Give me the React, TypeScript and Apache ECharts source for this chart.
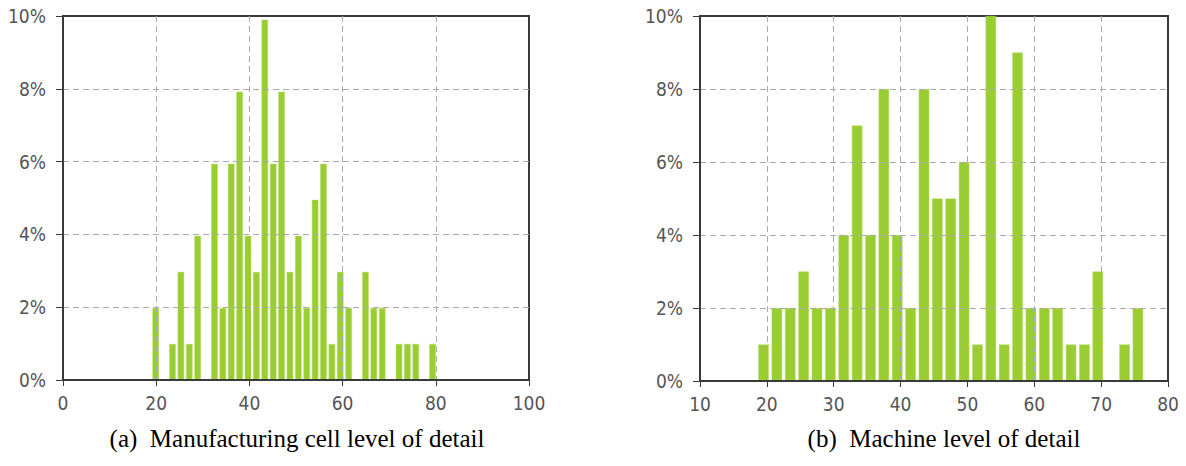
import React, { useEffect, useRef } from "react";
import * as echarts from "echarts";

// (a) Manufacturing cell level of detail — bin centres and share of items (%)
const cellBins = [19.9, 23.5, 25.3, 27.1, 28.9, 32.5, 34.3, 36.1, 37.9, 39.7, 41.5, 43.3, 45.1, 46.9, 48.7, 50.5, 52.3, 54.1, 55.9, 57.7, 59.5, 61.3, 64.9, 66.7, 68.5, 72.1, 73.9, 75.7, 79.3];
const cellShare = [1.98, 0.99, 2.97, 0.99, 3.96, 5.94, 1.98, 5.94, 7.92, 3.96, 2.97, 9.9, 5.94, 7.92, 2.97, 3.96, 1.98, 4.95, 5.94, 0.99, 2.97, 1.98, 2.97, 1.98, 1.98, 0.99, 0.99, 0.99, 0.99];

// (b) Machine level of detail — bin centres and share of items (%)
const machineBins = [19.5, 21.5, 23.5, 25.5, 27.5, 29.5, 31.5, 33.5, 35.5, 37.5, 39.5, 41.5, 43.5, 45.5, 47.5, 49.5, 51.5, 53.5, 55.5, 57.5, 59.5, 61.5, 63.5, 65.5, 67.5, 69.5, 73.5, 75.5];
const machineShare = [1, 2, 2, 3, 2, 2, 4, 7, 4, 8, 4, 2, 8, 5, 5, 6, 1, 10, 1, 9, 2, 2, 2, 1, 1, 3, 1, 2];

const captions = ["(a)  Manufacturing cell level of detail", "(b)  Machine level of detail"];

const GREEN = "#9acd32";
const AXIS = "#3a3a3a";
const LABEL = "#555555";
const FONT = "DejaVu Sans Condensed";

export default function App() {
  const ref = useRef<HTMLDivElement>(null);

  useEffect(() => {
    document.body.style.margin = "0";
    if (!ref.current) return;
    const chart = echarts.init(ref.current, undefined, { renderer: "svg" });

    const split = {
      show: true,
      showMinLine: false,
      showMaxLine: false,
      lineStyle: { color: "#aaaaaa", width: 1, type: [6, 4] as any },
    };
    const axisLabel = { color: LABEL, fontFamily: FONT, fontSize: 19 };

    const xAxisBase = (gridIndex: number, min: number, max: number, interval: number) => ({
      type: "value",
      gridIndex,
      min,
      max,
      interval,
      z: 5,
      axisLine: { show: true, onZero: false, lineStyle: { color: AXIS, width: 2 } },
      axisTick: { show: true, length: 6, lineStyle: { color: AXIS, width: 1 } },
      axisLabel: { ...axisLabel, margin: 13 },
      splitLine: split,
    });
    const yAxisBase = (gridIndex: number) => ({
      type: "value",
      gridIndex,
      min: 0,
      max: 10,
      interval: 2,
      z: 5,
      axisLine: { show: true, lineStyle: { color: AXIS, width: 2 } },
      axisTick: { show: true, length: 7, lineStyle: { color: AXIS, width: 1 } },
      axisLabel: { ...axisLabel, margin: 17, formatter: "{value}%" },
      splitLine: split,
    });

    chart.setOption({
      animation: false,
      backgroundColor: "#ffffff",
      grid: [
        { left: 63, top: 16, width: 466, height: 364, show: true, borderColor: AXIS, borderWidth: 2, backgroundColor: "transparent" },
        { left: 700, top: 16, width: 468, height: 365, show: true, borderColor: AXIS, borderWidth: 2, backgroundColor: "transparent" },
      ],
      xAxis: [xAxisBase(0, 0, 100, 20), xAxisBase(1, 10, 80, 10)],
      yAxis: [yAxisBase(0), yAxisBase(1)],
      series: [
        {
          type: "bar",
          xAxisIndex: 0,
          yAxisIndex: 0,
          barWidth: 6.5,
          z: 1,
          itemStyle: { color: GREEN, borderColor: "#b4dc66", borderWidth: 0.5 },
          data: cellBins.map((x, i) => [x, cellShare[i]]),
        },
        {
          type: "bar",
          xAxisIndex: 1,
          yAxisIndex: 1,
          barWidth: 10.5,
          z: 1,
          itemStyle: { color: GREEN, borderColor: "#b4dc66", borderWidth: 0.5 },
          data: machineBins.map((x, i) => [x, machineShare[i]]),
        },
      ],
      graphic: [
        {
          type: "text",
          x: 297,
          y: 438,
          style: { text: captions[0], fontFamily: "Liberation Serif", fontSize: 25, fill: "#000", align: "center", verticalAlign: "middle" },
        },
        {
          type: "text",
          x: 944,
          y: 438,
          style: { text: captions[1], fontFamily: "Liberation Serif", fontSize: 25, fill: "#000", align: "center", verticalAlign: "middle" },
        },
      ],
    });

    return () => chart.dispose();
  }, []);

  return <div ref={ref} style={{ width: 1186, height: 466 }} />;
}
